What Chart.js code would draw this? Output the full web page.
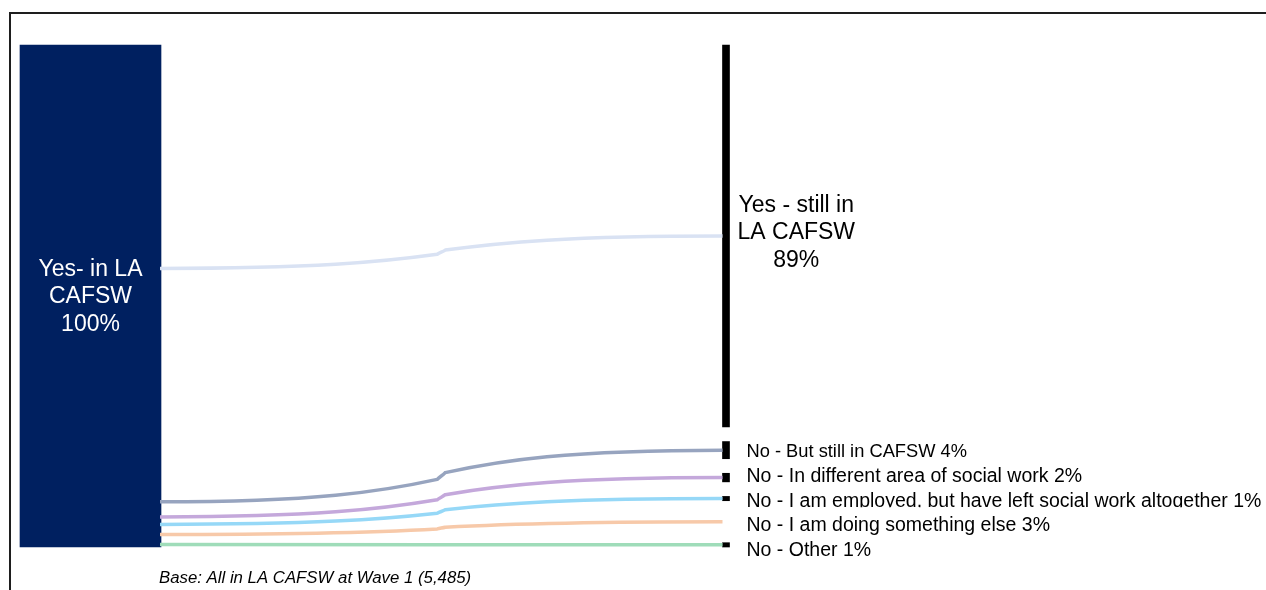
<!DOCTYPE html>
<html lang="en">
<head>
    <meta charset="UTF-8">
    <title>LA CAFSW - Wave 1 to Wave 2</title>
    <script src="https://cdn.jsdelivr.net/npm/chart.js"></script>
    <style>
        body {
            margin: 0;
            background: #ffffff;
            overflow: hidden;
            font-family: "Liberation Sans", Arial, sans-serif;
        }
        .frame {
            position: absolute;
            left: 9px;
            top: 12px;
            width: 1300px;
            height: 640px;
            border: 2px solid #1e1e1e;
        }
        #sankey {
            position: absolute;
            left: 0;
            top: 0;
        }
    </style>
</head>
<body>
    <div class="frame"></div>
    <canvas id="sankey" width="1266" height="590"></canvas>

    <script>
        // data
        const waves = ['Wave 1', 'Wave 2'];
        const sourceLabel = ['Yes- in LA', 'CAFSW'];
        const sourceValue = 100;
        const targetLabels = [
            ['Yes - still in', 'LA CAFSW'],
            ['No - But still in CAFSW'],
            ['No - In different area of social work'],
            ['No - I am employed, but have left social work altogether'],
            ['No - I am doing something else'],
            ['No - Other']
        ];
        const targetValues = [89, 4, 2, 1, 3, 1];
        const baseNote = 'Base: All in LA CAFSW at Wave 1 (5,485)';

        // styles
        const sourceColor = '#002060';
        const nodeColors = ['#000000', '#000000', '#000000', '#000000', 'rgba(0,0,0,0)', '#000000'];
        const flowColors = ['#d9e2f3', '#97a4bf', '#c4a8db', '#96d8f7', '#f7c9a9', '#9fdcb9'];
        const labelFontSizes = [23, 18.3, 19.5, 19.5, 19.5, 19.5];
        const labelClipBelow = [null, null, null, 6, null, null];
        const NODE_GAP = 2.9; // space between wave 2 nodes, in % of the axis
        const FONT = '"Liberation Sans", Arial, sans-serif';

        // wave 2 nodes are squeezed so that nodes + gaps fill the same height as wave 1
        const total = targetValues.reduce((a, b) => a + b, 0);
        const k = (sourceValue - NODE_GAP * (targetValues.length - 1)) / total;

        const datasets = [{
            label: 'source',
            data: [[0, sourceValue], null],
            backgroundColor: sourceColor,
            barThickness: 141
        }];
        let pos = 0;
        targetValues.forEach((v, i) => {
            datasets.push({
                label: targetLabels[i].join(' '),
                data: [null, [pos, pos + v * k]],
                backgroundColor: nodeColors[i],
                barThickness: 7
            });
            pos += v * k + NODE_GAP;
        });
        datasets.forEach(d => {
            d.grouped = false;
            d.clip = false;
            d.borderWidth = 0;
        });

        // two half-sigmoids joined by a small step in the middle
        function flowPath(ctx, x0, y0, x1, y1) {
            const xm = (x0 + x1) / 2;
            const h = xm - x0;
            const dy = y1 - y0;
            const kink = 0.13, kw = 4;
            const ya = y0 + dy * (0.5 - kink / 2);
            const yb = y0 + dy * (0.5 + kink / 2);
            ctx.beginPath();
            ctx.moveTo(x0, y0);
            ctx.bezierCurveTo(x0 + h * 0.55, y0, xm - kw - h * 0.2, y0 + (ya - y0) * 0.45, xm - kw, ya);
            ctx.bezierCurveTo(xm - kw / 3, ya + (yb - ya) * 0.45, xm + kw / 3, yb - (yb - ya) * 0.45, xm + kw, yb);
            ctx.bezierCurveTo(xm + kw + h * 0.2, yb + (y1 - yb) * 0.55, x1 - h * 0.55, y1, x1, y1);
            ctx.stroke();
        }

        const sankeyPlugin = {
            id: 'sankeyFlows',
            afterDatasetsDraw(chart) {
                const ctx = chart.ctx;
                const y = chart.scales.y;
                const src = chart.getDatasetMeta(0).data[0];
                const x0 = src.x + src.width / 2 - 1;
                let cum = 0;
                ctx.save();
                ctx.lineWidth = 3.5;
                targetValues.forEach((v, i) => {
                    const bar = chart.getDatasetMeta(i + 1).data[1];
                    const range = chart.data.datasets[i + 1].data[1];
                    const y0 = y.getPixelForValue(cum + v / 2);
                    const y1 = y.getPixelForValue((range[0] + range[1]) / 2);
                    ctx.strokeStyle = flowColors[i];
                    flowPath(ctx, x0, y0, bar.x - bar.width / 2, y1);
                    cum += v;
                });
                ctx.restore();
            },
            afterDraw(chart) {
                const ctx = chart.ctx;
                const y = chart.scales.y;
                ctx.save();
                ctx.textBaseline = 'middle';

                // wave 1 label inside the bar
                const src = chart.getDatasetMeta(0).data[0];
                const srcLines = sourceLabel.concat([sourceValue + '%']);
                const srcMid = y.getPixelForValue(sourceValue / 2);
                ctx.font = '23px ' + FONT;
                ctx.fillStyle = '#ffffff';
                ctx.textAlign = 'center';
                srcLines.forEach((t, j) => {
                    ctx.fillText(t, src.x, srcMid + 1 + (j - (srcLines.length - 1) / 2) * 27.5);
                });

                // wave 2 labels
                let prev = null;
                targetValues.forEach((v, i) => {
                    const bar = chart.getDatasetMeta(i + 1).data[1];
                    const range = chart.data.datasets[i + 1].data[1];
                    const mid = y.getPixelForValue((range[0] + range[1]) / 2);
                    const right = bar.x + bar.width / 2;
                    ctx.fillStyle = '#000000';
                    ctx.font = labelFontSizes[i] + 'px ' + FONT;
                    if (targetLabels[i].length > 1) {
                        const lines = targetLabels[i].concat([v + '%']);
                        ctx.textAlign = 'center';
                        const w = Math.max(...lines.map(t => ctx.measureText(t).width));
                        lines.forEach((t, j) => {
                            ctx.fillText(t, right + 8 + w / 2, mid - 3 + (j - (lines.length - 1) / 2) * 27.5);
                        });
                    } else {
                        // small labels run down like a list from the first one
                        const ty = prev === null ? mid + 2 : prev + 24.5;
                        prev = ty;
                        ctx.textAlign = 'left';
                        ctx.save();
                        if (labelClipBelow[i] !== null) {
                            ctx.beginPath();
                            ctx.rect(right, ty - 20, 700, 20 + labelClipBelow[i]);
                            ctx.clip();
                        }
                        ctx.fillText(targetLabels[i][0] + ' ' + v + '%', right + 17, ty);
                        ctx.restore();
                    }
                });

                // base note
                ctx.font = 'italic 16.8px ' + FONT;
                ctx.textAlign = 'left';
                ctx.fillStyle = '#000000';
                ctx.fillText(baseNote, src.x + src.width / 2 - 2, chart.chartArea.bottom + 31);
                ctx.restore();
            }
        };

        new Chart(document.getElementById('sankey').getContext('2d'), {
            type: 'bar',
            data: { labels: waves, datasets: datasets },
            options: {
                responsive: false,
                animation: false,
                layout: { padding: { left: 90.5, right: 540, top: 45, bottom: 43 } },
                scales: {
                    x: { type: 'category', offset: false, display: false },
                    y: { type: 'linear', min: 0, max: 100, reverse: true, display: false }
                },
                plugins: {
                    legend: { display: false },
                    tooltip: { enabled: false }
                }
            },
            plugins: [sankeyPlugin]
        });
    </script>
</body>
</html>
